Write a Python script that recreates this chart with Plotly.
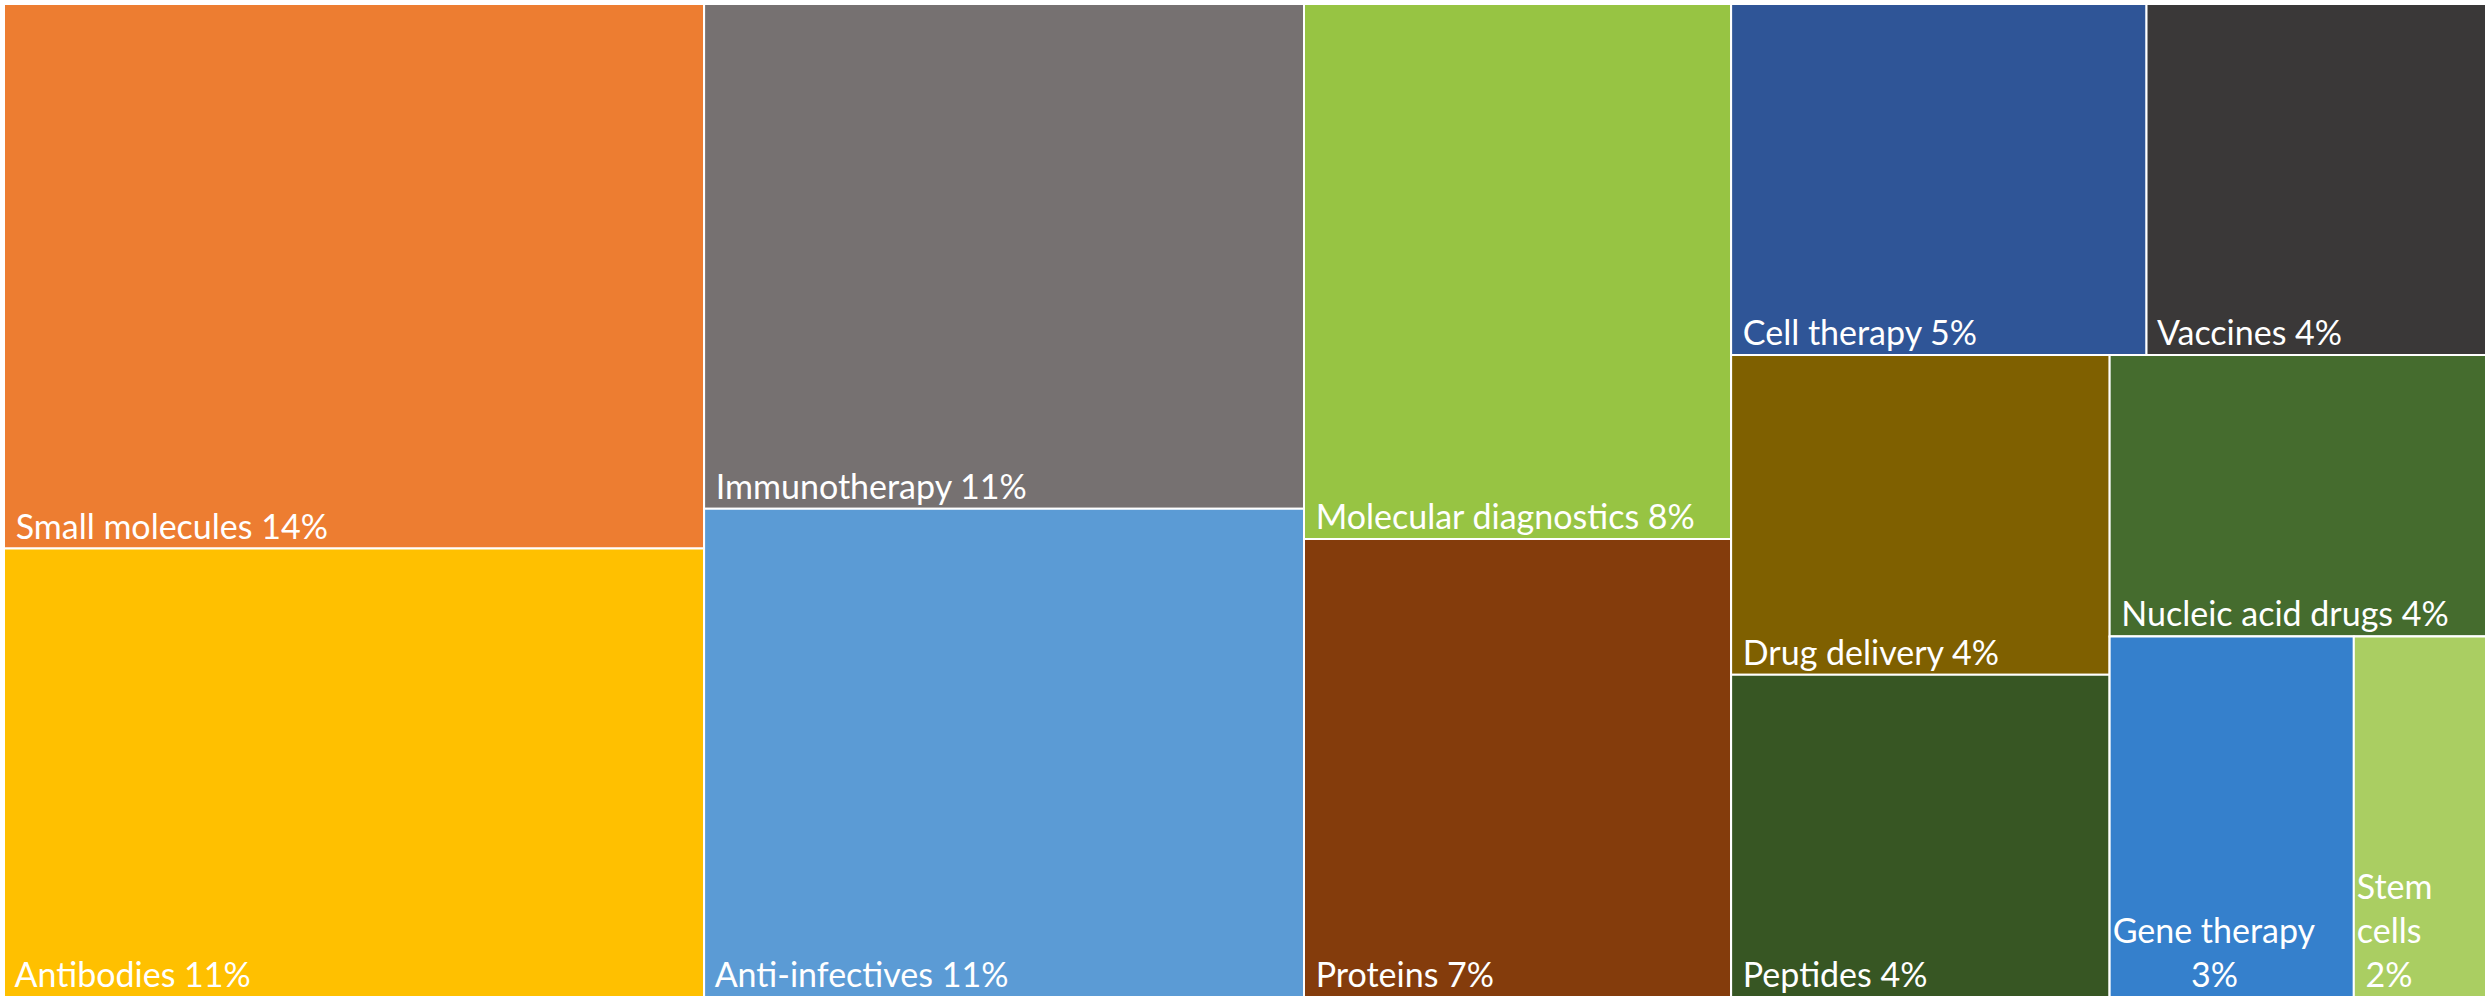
import plotly.graph_objects as go

# --- data ---
categories = ["Small molecules", "Antibodies", "Immunotherapy", "Anti-infectives",
              "Molecular diagnostics", "Proteins", "Cell therapy", "Vaccines",
              "Drug delivery", "Peptides", "Nucleic acid drugs", "Gene therapy", "Stem cells"]
shares = [13.6, 11.2, 10.8, 10.45, 8.15, 6.98, 5.2, 4.25, 4.32, 4.35, 3.78, 3.14, 1.70]
pct_labels = [14, 11, 11, 11, 8, 7, 5, 4, 4, 4, 4, 3, 2]
colors = ["#ED7D31", "#FFC000", "#767171", "#5B9BD5", "#97C443", "#843C0C", "#2F5597",
          "#3A3838", "#7F6000", "#375623", "#456C2E", "#3580CC", "#AACE62"]
# grouping that reproduces the tile arrangement (columns / rows)
leaf_parent = ["c1", "c1", "c2", "c2", "c3", "c3", "rA", "rA", "b1", "b1", "b2", "g", "g"]
groups = ["root", "c1", "c2", "c3", "c4", "rA", "rB", "b1", "b2", "g"]
group_parent = ["", "root", "root", "root", "root", "c4", "c4", "rB", "rB", "b2"]

# --- build hierarchy ---
ids, labels, parents, values, texts, cols = [], [], [], [], [], []
for g, p in zip(groups, group_parent):
    ids.append(g); labels.append(""); parents.append(p); values.append(0)
    texts.append(""); cols.append("#FFFFFF")

for cat, val, pct, col, par in zip(categories, shares, pct_labels, colors, leaf_parent):
    ids.append(cat); labels.append(cat); parents.append(par); values.append(val)
    if cat == "Gene therapy":
        t = f"{cat}<br>" + "\u00a0" * 9 + f"{pct}%"
    elif cat == "Stem cells":
        t = f"Stem<br>cells<br>\u00a0{pct}%"
    else:
        t = f"\u00a0{cat} {pct}%"
    texts.append(t)
    cols.append(col)

# group "g" must come after "Nucleic acid drugs" among the children of "b2"
idx_g = ids.index("g")
g_row = [lst.pop(idx_g) for lst in (ids, labels, parents, values, texts, cols)]
for lst, v in zip((ids, labels, parents, values, texts, cols), g_row):
    lst.append(v)

fig = go.Figure(go.Treemap(
    ids=ids, labels=labels, parents=parents, values=values,
    text=texts, texttemplate="%{text}",
    branchvalues="remainder", sort=False,
    tiling=dict(packing="slice-dice", pad=0),
    marker=dict(colors=cols, line=dict(width=2, color="#FFFFFF"),
                pad=dict(t=0, l=0, r=0, b=0), depthfade=False),
    pathbar=dict(visible=False),
    textposition="bottom left",
    textfont=dict(family="Lato, 'Open Sans', sans-serif", size=34, color="#FFFFFF"),
    hoverinfo="skip",
    root=dict(color="#FFFFFF"),
))

fig.update_layout(
    width=2486, height=997,
    margin=dict(l=4, r=0, t=4, b=0),
    paper_bgcolor="#FFFFFF",
)

fig.write_html("out.html", config={"displayModeBar": False},
               post_script="document.body.style.margin='0';")
